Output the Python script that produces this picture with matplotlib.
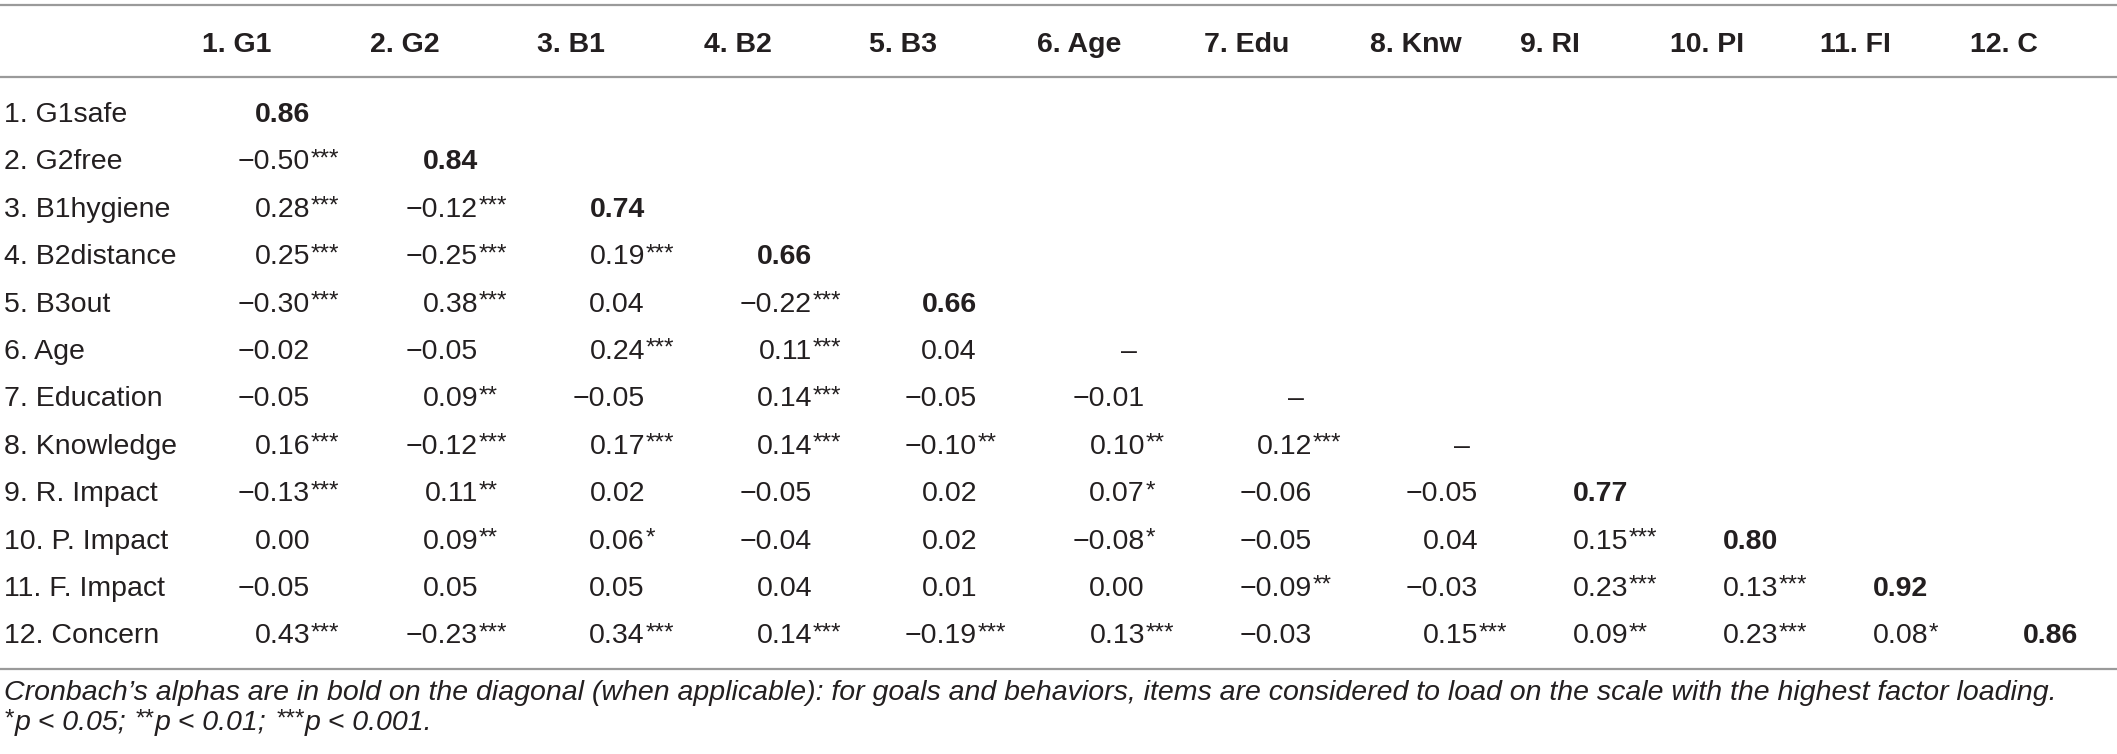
import matplotlib
matplotlib.use("Agg")
import matplotlib.pyplot as plt

# Dados da tabela de correlações
col_labels = ["1. G1", "2. G2", "3. B1", "4. B2", "5. B3", "6. Age", "7. Edu",
              "8. Knw", "9. RI", "10. PI", "11. FI", "12. C"]
row_labels = ["1. G1safe", "2. G2free", "3. B1hygiene", "4. B2distance", "5. B3out",
              "6. Age", "7. Education", "8. Knowledge", "9. R. Impact",
              "10. P. Impact", "11. F. Impact", "12. Concern"]
alphas = [0.86, 0.84, 0.74, 0.66, 0.66, None, None, None, 0.77, 0.80, 0.92, 0.86]

corr_rows = [
    [],
    [-0.50],
    [0.28, -0.12],
    [0.25, -0.25, 0.19],
    [-0.30, 0.38, 0.04, -0.22],
    [-0.02, -0.05, 0.24, 0.11, 0.04],
    [-0.05, 0.09, -0.05, 0.14, -0.05, -0.01],
    [0.16, -0.12, 0.17, 0.14, -0.10, 0.10, 0.12],
    [-0.13, 0.11, 0.02, -0.05, 0.02, 0.07, -0.06, -0.05],
    [0.00, 0.09, 0.06, -0.04, 0.02, -0.08, -0.05, 0.04, 0.15],
    [-0.05, 0.05, 0.05, 0.04, 0.01, 0.00, -0.09, -0.03, 0.23, 0.13],
    [0.43, -0.23, 0.34, 0.14, -0.19, 0.13, -0.03, 0.15, 0.09, 0.23, 0.08],
]
# número de asteriscos (significância)
sig_rows = [
    [],
    [3],
    [3, 3],
    [3, 3, 3],
    [3, 3, 0, 3],
    [0, 0, 3, 3, 0],
    [0, 2, 0, 3, 0, 0],
    [3, 3, 3, 3, 2, 2, 3],
    [3, 2, 0, 0, 0, 1, 0, 0],
    [0, 2, 1, 0, 0, 1, 0, 0, 3],
    [0, 0, 0, 0, 0, 0, 2, 0, 3, 3],
    [3, 3, 3, 3, 3, 3, 0, 3, 2, 3, 1],
]

note = ("Cronbach\u2019s alphas are in bold on the diagonal (when applicable): for goals and "
        "behaviors, items are considered to load on the scale with the highest factor loading.")

# Layout (pixels, y para baixo, posições = linha de base do texto)
W, H = 2117, 754
col_right = [310, 478, 645, 812, 977, 1145, 1312, 1478, 1628, 1778, 1928, 2078]
head_off = 108
y_header = 52
y_row0 = 122
row_step = 47.4
y_note1, y_note2 = 700, 730
rules_y = [5, 77, 669]
txt = "#231f20"
rule = "#9a9a9a"
fs = 20.5
sfs = fs * 0.85
sup_dy = 4
fam = ["Liberation Sans", "DejaVu Sans"]

fig = plt.figure(figsize=(W / 100, H / 100), dpi=100)
ax = fig.add_axes([0, 0, 1, 1])
ax.set_xlim(0, W)
ax.set_ylim(H, 0)
ax.axis("off")


def fmt(v):
    s = f"{abs(v):.2f}"
    return ("\u2212" + s) if v < 0 else s


def put(x, y, s, size=fs, ha="left", **kw):
    return ax.text(x, y, s, fontsize=size, family=fam, color=txt, ha=ha,
                   va="baseline", **kw)


# linhas horizontais
for yy in rules_y:
    ax.axhline(yy, color=rule, lw=1.6)

# cabeçalho
for j, lab in enumerate(col_labels):
    put(col_right[j] - head_off, y_header, lab, weight="bold")

# linhas da tabela
for i, lab in enumerate(row_labels):
    y = y_row0 + i * row_step
    put(4, y, lab)
    for j, v in enumerate(corr_rows[i]):
        xr = col_right[j]
        put(xr, y, fmt(v), ha="right")
        if sig_rows[i][j]:
            put(xr + 1, y - sup_dy, "*" * sig_rows[i][j], size=sfs)
    xr = col_right[i]
    if alphas[i] is None:
        put(xr - 8, y, "\u2013", ha="right")
    else:
        put(xr, y, f"{alphas[i]:.2f}", ha="right", weight="bold")

# notas de rodapé
put(4, y_note1, note, style="italic")

fig.canvas.draw()
r = fig.canvas.get_renderer()
x = 4
parts = [("*", True), ("p < 0.05; ", False), ("**", True), ("p < 0.01; ", False),
         ("***", True), ("p < 0.001.", False)]
for s, sup in parts:
    if sup:
        t = put(x, y_note2 - sup_dy, s, size=sfs, style="italic")
    else:
        t = put(x, y_note2, s, style="italic")
    bb = t.get_window_extent(renderer=r)
    x += bb.width + 1

plt.savefig("out.png", dpi=100)
